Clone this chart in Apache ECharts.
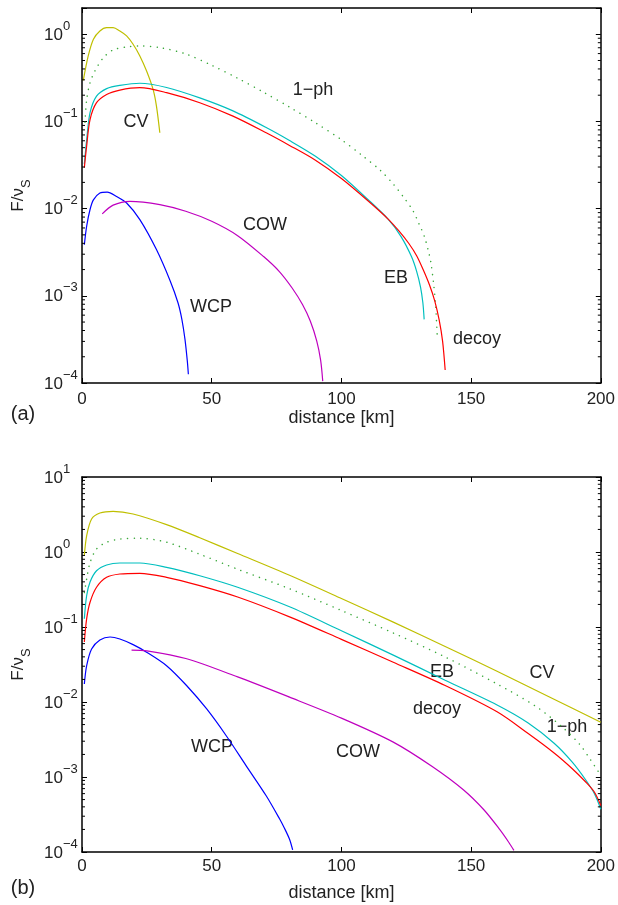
<!DOCTYPE html>
<html>
<head>
<meta charset="utf-8">
<script src="https://cdn.jsdelivr.net/npm/echarts@6/dist/echarts.min.js"></script>
<style>
html,body{margin:0;padding:0;background:#fff;}
#chart{width:618px;height:905px;}
</style>
</head>
<body>
<div id="chart"></div>
<script>
// ---------- Panel (a) data ----------
var CV_A_D = [0.5, 2.4, 4.4, 6.9, 9.5, 12, 14.6, 17.2, 19.7, 22.3, 24.9, 27.4, 28.7, 30];
var CV_A_V = [0.296, 0.564, 0.877, 1.09, 1.19, 1.19, 1.09, 0.957, 0.767, 0.564, 0.378, 0.233, 0.150, 0.0741];

var EB_A_D = [0.9, 1.8, 3.1, 5.6, 9.5, 14.6, 22.3, 32.6, 45.4, 58.2, 71, 80, 90, 100, 110, 118, 123, 127, 129, 130.5, 131.4, 131.9];
var EB_A_V = [0.0324, 0.0617, 0.126, 0.195, 0.238, 0.259, 0.274, 0.245, 0.186, 0.132, 0.0851, 0.0604, 0.0399, 0.0240, 0.0129, 0.00757, 0.00478, 0.00282, 0.00191, 0.00126, 0.000832, 0.000537];

var DECOY_A_D = [0.9, 1.8, 3.1, 5.6, 9.5, 14.6, 22.3, 32.6, 45.4, 58.2, 71, 80, 90, 100, 110, 118, 122, 126, 129, 131.5, 134, 136, 137.7, 139, 140];
var DECOY_A_V = [0.0295, 0.0525, 0.105, 0.164, 0.204, 0.229, 0.244, 0.214, 0.164, 0.115, 0.0741, 0.0531, 0.0359, 0.0221, 0.01245, 0.00759, 0.00562, 0.00398, 0.00288, 0.00200, 0.00132, 0.000871, 0.000525, 0.000302, 0.000141];

var PH_A_D = [1.15, 1.8, 3.1, 5.0, 8.2, 12, 17.2, 22.3, 30, 40, 50, 60, 70, 80, 90, 100, 108, 115, 120, 124, 127.5, 130, 132, 133.5, 134.5, 135.5, 136.3, 137];
var PH_A_V = [0.0977, 0.178, 0.279, 0.380, 0.537, 0.661, 0.714, 0.735, 0.703, 0.594, 0.440, 0.313, 0.216, 0.146, 0.0966, 0.0617, 0.0407, 0.0275, 0.0191, 0.0135, 0.00955, 0.00661, 0.00479, 0.00331, 0.00240, 0.00141, 0.000794, 0.000316];

var WCP_A_D = [0.9, 1.8, 3.1, 4.4, 6.9, 9.7, 13.3, 17.2, 22.3, 28.7, 34, 37, 38.5, 39.7, 40.6, 41];
var WCP_A_V = [0.00385, 0.00631, 0.00977, 0.0126, 0.0151, 0.0155, 0.0138, 0.0116, 0.00748, 0.00339, 0.00148, 0.000832, 0.000537, 0.000316, 0.000178, 0.000126];

var COW_A_D = [7.8, 12, 18.5, 30, 40, 50, 60, 70, 76, 81, 85, 88, 90.5, 92, 92.8];
var COW_A_V = [0.00871, 0.01096, 0.01213, 0.01112, 0.00933, 0.00716, 0.00490, 0.00282, 0.00191, 0.00123, 0.000794, 0.000513, 0.000302, 0.000182, 0.000105];

// ---------- Panel (b) data ----------
var CV_B_D = [0.9, 1.8, 3.7, 6.9, 12, 19.7, 32.6, 45.4, 60, 80, 100, 120, 140, 160, 180, 200];
var CV_B_V = [0.891, 1.648, 2.754, 3.311, 3.491, 3.214, 2.317, 1.549, 0.955, 0.490, 0.240, 0.1161, 0.0550, 0.0257, 0.01175, 0.00537];

var PH_B_D = [0.9, 1.8, 3.1, 5.6, 9.5, 14.6, 22.3, 32.6, 45.4, 60, 80, 100, 120, 140, 160, 175, 185, 192, 196, 199.5];
var PH_B_V = [0.288, 0.437, 0.724, 1.096, 1.349, 1.489, 1.521, 1.349, 0.933, 0.589, 0.324, 0.166, 0.0832, 0.0398, 0.0174, 0.00871, 0.00468, 0.00269, 0.00170, 0.00112];

var EB_B_D = [0.9, 1.8, 3.1, 5.6, 9.5, 14.6, 22.3, 32.6, 45.4, 60, 80, 100, 120, 140, 160, 172, 182, 189, 194, 197.5, 200];
var EB_B_V = [0.129, 0.263, 0.398, 0.562, 0.671, 0.713, 0.713, 0.625, 0.483, 0.339, 0.186, 0.0891, 0.0422, 0.0195, 0.00912, 0.00525, 0.00282, 0.00158, 0.000933, 0.000603, 0.000372];

var DECOY_B_D = [0.9, 1.8, 3.1, 5.6, 9.5, 14.6, 22.3, 32.6, 45.4, 60, 80, 100, 120, 140, 160, 172, 182, 189, 194, 197.5, 200];
var DECOY_B_V = [0.0631, 0.129, 0.214, 0.339, 0.460, 0.509, 0.520, 0.460, 0.356, 0.251, 0.1365, 0.0684, 0.0339, 0.0166, 0.00741, 0.00380, 0.00209, 0.00129, 0.000871, 0.000631, 0.000417];

var WCP_B_D = [0.9, 1.8, 3.7, 6.9, 10.8, 14.6, 19.7, 24.9, 32.6, 40.3, 48, 55.6, 63.3, 71, 76.2, 78, 80, 81.2];
var WCP_B_V = [0.0174, 0.0305, 0.0509, 0.0671, 0.0736, 0.0692, 0.0582, 0.0462, 0.0305, 0.0166, 0.00813, 0.00355, 0.00141, 0.000562, 0.000275, 0.000209, 0.000148, 0.000107];

var COW_B_D = [19.1, 25, 40, 60, 80, 100, 120, 135, 147, 155, 161, 164.5, 166.5];
var COW_B_V = [0.0493, 0.0481, 0.0380, 0.0216, 0.01161, 0.00610, 0.00292, 0.00138, 0.000676, 0.000363, 0.000200, 0.000135, 0.000105];

// ---------- Axes ----------
var X_MIN = 0, X_MAX = 200, X_INTERVAL = 50;
var Y_MIN = 1e-4;
var Y_MAX_A = 2, Y_MAX_B = 10;
var MINOR_MULTS = [2, 3, 4, 5, 6, 7, 8, 9];
var DECADES_A = [1e-4, 1e-3, 1e-2, 1e-1, 1];
var DECADES_B = [1e-4, 1e-3, 1e-2, 1e-1, 1];
var X_TITLE = 'distance [km]';
var PANEL_TAGS = ['(a)', '(b)'];

// ---------- Styling ----------
var FONT = 'Liberation Sans, Arial, Helvetica, sans-serif';
var C_CV = '#bfbf00', C_EB = '#00bfbf', C_DECOY = '#ff0000', C_PH = '#3aa83a', C_WCP = '#0000ff', C_COW = '#bf00bf';

function pairs(d, v) { return d.map(function (x, i) { return [x, v[i]]; }); }
function minorList(decades, max) {
  var out = [];
  decades.forEach(function (dec) {
    MINOR_MULTS.forEach(function (m) { var val = m * dec; if (val < max) out.push([0, val]); });
  });
  return out;
}

var chart = echarts.init(document.getElementById('chart'), null, {renderer: 'canvas'});

var grids = [
  {left: 82, top: 8, width: 520, height: 375},
  {left: 82, top: 477, width: 520, height: 375}
];

function xAxes(gi, nameGap, margin) {
  return [{
    type: 'value', gridIndex: gi, position: 'bottom', min: X_MIN, max: X_MAX, interval: X_INTERVAL,
    axisLine: {show: true, onZero: false, lineStyle: {color: '#000', width: 1.5}},
    axisTick: {show: true, inside: true, length: 5, lineStyle: {color: '#000', width: 1}},
    axisLabel: {show: true, margin: margin, fontSize: 17, color: '#222', fontFamily: FONT},
    splitLine: {show: false},
    name: X_TITLE, nameLocation: 'middle', nameGap: nameGap,
    nameTextStyle: {fontSize: 18, color: '#222', fontFamily: FONT}
  }, {
    type: 'value', gridIndex: gi, position: 'top', min: X_MIN, max: X_MAX, interval: X_INTERVAL,
    axisLine: {show: true, onZero: false, lineStyle: {color: '#000', width: 1.5}},
    axisTick: {show: true, inside: true, length: 5, lineStyle: {color: '#000', width: 1}},
    axisLabel: {show: false}, splitLine: {show: false}
  }];
}

function yLabel(v) {
  var e = Math.log(v) / Math.LN10;
  var r = Math.round(e);
  if (Math.abs(e - r) > 1e-6) return '';
  var s = r < 0 ? '\u2212' + (-r) : '' + r;
  return '{b|10}{s|' + s + '}';
}

function yAxes(gi, maxV) {
  return [{
    type: 'log', logBase: 10, gridIndex: gi, position: 'left', min: Y_MIN, max: maxV, splitNumber: 5,
    axisLine: {show: true, onZero: false, lineStyle: {color: '#000', width: 1.5}},
    axisTick: {show: true, inside: true, length: 5, lineStyle: {color: '#000', width: 1}},
    axisLabel: {
      show: true, align: 'left', margin: 38, formatter: yLabel, color: '#222', fontFamily: FONT,
      showMinLabel: true, showMaxLabel: true, padding: [0, 0, 5, 0],
      rich: {
        b: {fontSize: 17, padding: [7, 0, 0, 0], verticalAlign: 'bottom', color: '#222', fontFamily: FONT},
        s: {fontSize: 13, verticalAlign: 'top', color: '#222', fontFamily: FONT}
      }
    },
    splitLine: {show: false},
    name: '{m|F/\u03bd}{s|S}', nameLocation: 'middle', nameGap: 47, nameRotate: 90,
    nameTextStyle: {
      color: '#222', fontFamily: FONT,
      rich: {
        m: {fontSize: 17, verticalAlign: 'top', color: '#222', fontFamily: FONT},
        s: {fontSize: 13, padding: [10, 0, 0, 0], verticalAlign: 'bottom', color: '#222', fontFamily: FONT}
      }
    }
  }, {
    type: 'log', logBase: 10, gridIndex: gi, position: 'right', min: Y_MIN, max: maxV, splitNumber: 5,
    axisLine: {show: true, onZero: false, lineStyle: {color: '#000', width: 1.5}},
    axisTick: {show: true, inside: true, length: 5, lineStyle: {color: '#000', width: 1}},
    axisLabel: {show: false}, splitLine: {show: false}
  }];
}

function lineSeries(xi, yi, d, v, color, dotted) {
  return {
    type: 'line', xAxisIndex: xi, yAxisIndex: yi, data: pairs(d, v),
    showSymbol: false, symbol: 'none', smooth: 0.3, clip: true, silent: true,
    lineStyle: dotted ? {color: color, width: 1.5, type: [0.1, 6.5], cap: 'round'} : {color: color, width: 1.2},
    z: 3
  };
}

function minorSeries(xi, yi, decades, maxV) {
  return {
    type: 'custom', xAxisIndex: xi, yAxisIndex: yi, data: minorList(decades, maxV),
    encode: {x: 0, y: 1}, silent: true, clip: false, z: 5,
    renderItem: function (params, api) {
      var v = api.value(1);
      var pl = api.coord([X_MIN, v]);
      var pr = api.coord([X_MAX, v]);
      return {
        type: 'group', children: [
          {type: 'line', shape: {x1: pl[0], y1: pl[1], x2: pl[0] + 3, y2: pl[1]}, style: {stroke: '#000', lineWidth: 1}},
          {type: 'line', shape: {x1: pr[0] - 3, y1: pr[1], x2: pr[0], y2: pr[1]}, style: {stroke: '#000', lineWidth: 1}}
        ]
      };
    }
  };
}

var option = {
  animation: false,
  backgroundColor: '#fff',
  grid: grids,
  xAxis: xAxes(0, 24, 8).concat(xAxes(1, 32, 6)),
  yAxis: yAxes(0, Y_MAX_A).concat(yAxes(1, Y_MAX_B)),
  series: [
    lineSeries(0, 0, PH_A_D, PH_A_V, C_PH, true),
    lineSeries(0, 0, CV_A_D, CV_A_V, C_CV),
    lineSeries(0, 0, EB_A_D, EB_A_V, C_EB),
    lineSeries(0, 0, DECOY_A_D, DECOY_A_V, C_DECOY),
    lineSeries(0, 0, WCP_A_D, WCP_A_V, C_WCP),
    lineSeries(0, 0, COW_A_D, COW_A_V, C_COW),
    minorSeries(0, 0, DECADES_A, Y_MAX_A),
    lineSeries(2, 2, PH_B_D, PH_B_V, C_PH, true),
    lineSeries(2, 2, CV_B_D, CV_B_V, C_CV),
    lineSeries(2, 2, EB_B_D, EB_B_V, C_EB),
    lineSeries(2, 2, DECOY_B_D, DECOY_B_V, C_DECOY),
    lineSeries(2, 2, WCP_B_D, WCP_B_V, C_WCP),
    lineSeries(2, 2, COW_B_D, COW_B_V, C_COW),
    minorSeries(2, 2, DECADES_B, Y_MAX_B)
  ]
};
chart.setOption(option);

// Curve labels placed at reference positions
var labelsA = [['1\u2212ph', 313, 90], ['CV', 136, 122], ['COW', 265, 225], ['EB', 396, 278], ['WCP', 211, 307], ['decoy', 477, 339]];
var labelsB = [['CV', 542, 673], ['EB', 442, 672], ['decoy', 437, 709], ['1\u2212ph', 567, 727], ['WCP', 212, 747], ['COW', 358, 752]];
var g = [];
labelsA.concat(labelsB).forEach(function (l) {
  g.push({type: 'text', x: l[1], y: l[2], silent: true,
    style: {text: l[0], font: '18px ' + FONT, fill: '#222', align: 'center', verticalAlign: 'middle'}});
});
g.push({type: 'text', x: 23, y: 414, silent: true, style: {text: PANEL_TAGS[0], font: '20px ' + FONT, fill: '#222', align: 'center', verticalAlign: 'middle'}});
g.push({type: 'text', x: 23, y: 888, silent: true, style: {text: PANEL_TAGS[1], font: '20px ' + FONT, fill: '#222', align: 'center', verticalAlign: 'middle'}});
chart.setOption({graphic: g});
</script>
</body>
</html>
